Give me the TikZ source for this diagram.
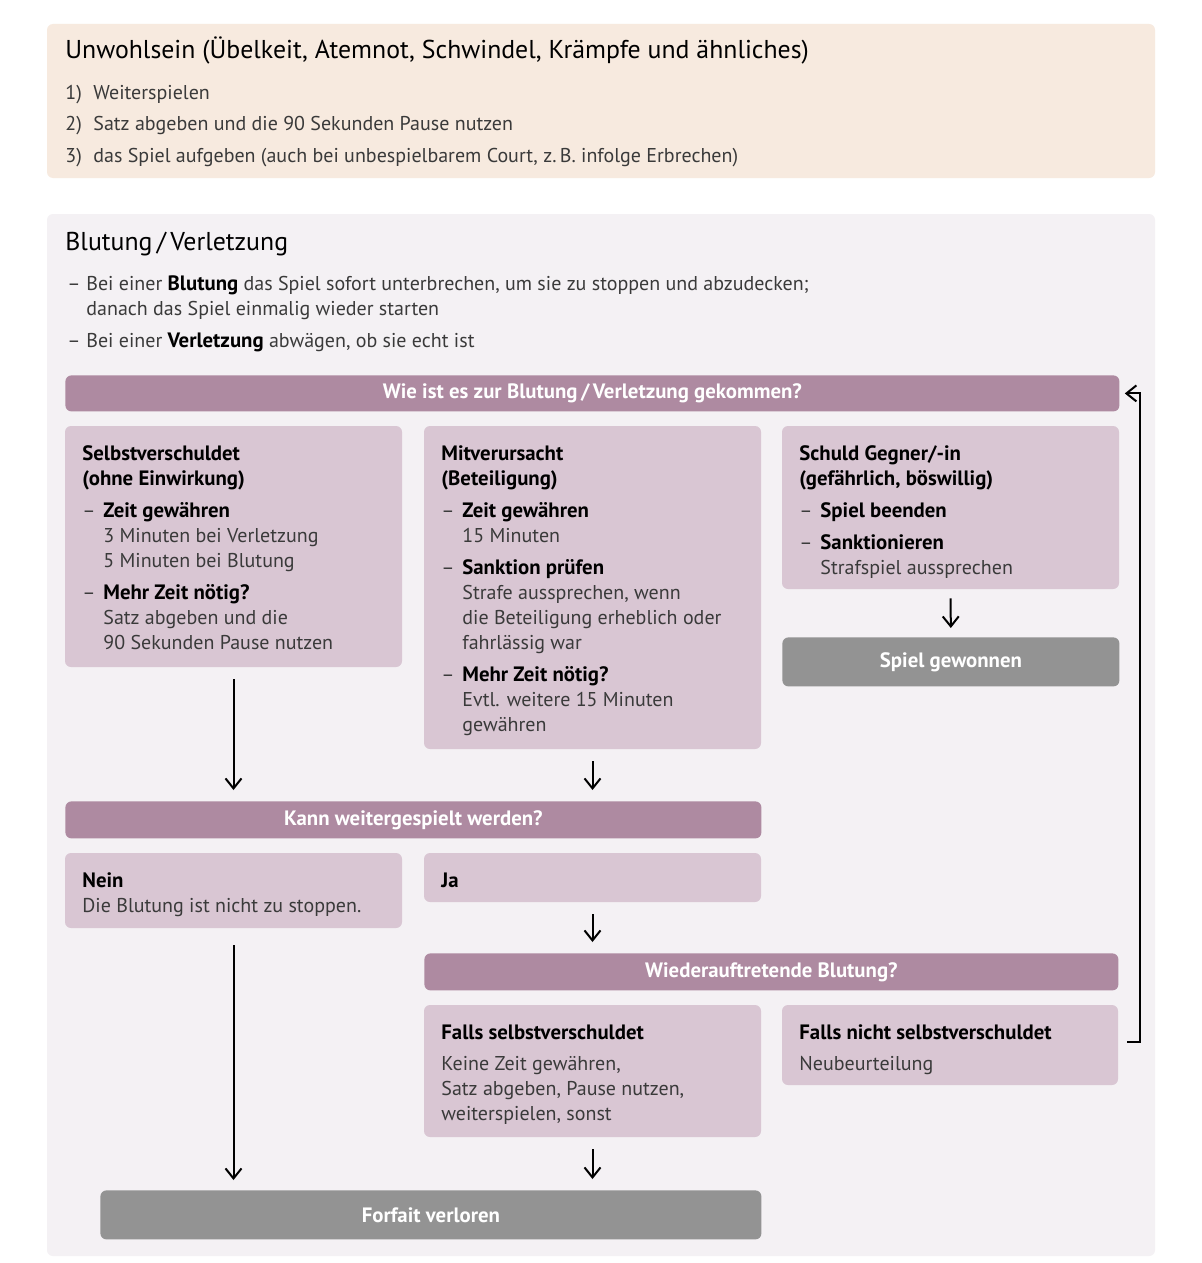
\documentclass[tikz,border=0pt]{standalone}
\usepackage{fontspec}
\setmainfont{PT Sans}
\usetikzlibrary{arrows.meta, positioning, fit, calc}

\definecolor{pfirsich}{HTML}{F7EADF}
\definecolor{hellgrau}{HTML}{F4F1F4}
\definecolor{mauve}{HTML}{AE8AA1}
\definecolor{flieder}{HTML}{D9C6D3}
\definecolor{grau}{HTML}{939393}
\definecolor{fliess}{HTML}{3A3A3A}

\newcommand{\oben}{\rule{0pt}{8pt}}
\newcommand{\strich}{\makebox[10.5pt][l]{–}}
\newcommand{\einr}{\hspace*{10.5pt}}
\newcommand{\fett}[1]{\textcolor{black}{\fontsize{10.4}{12.5}\selectfont\bfseries #1}}

\begin{document}
\begin{tikzpicture}[x=0.5pt, y=-0.5pt, font=\fontsize{10}{12.5}\selectfont,
    flaeche/.style={rounded corners=3pt, inner sep=0pt},
    kasten/.style={fill=flieder, rounded corners=3pt, inner sep=0pt},
    frage/.style={fill=mauve, rounded corners=3pt, inner sep=0pt, anchor=north west, text=white, font=\fontsize{10.4}{12.5}\selectfont\bfseries},
    ende/.style={fill=grau, rounded corners=3pt, inner sep=0pt, anchor=north west, text=white, font=\fontsize{10.4}{12.5}\selectfont\bfseries},
    txt/.style={anchor=north west, yshift=7pt, inner sep=0pt, align=left, text=fliess},
    titel/.style={anchor=base west, inner sep=0pt, text=black, font=\fontsize{12.9}{15}\selectfont},
    pfeil/.style={-{Straight Barb[length=5pt, width=8pt]}, line width=1pt, shorten <=6pt, shorten >=5.5pt}]
    \useasboundingbox[fill=white] (0,0) rectangle (1202,1263);

    % Unwohlsein
    \node[flaeche, fill=pfirsich, fit={(47,24) (1155,178)}] (unwohl) {};
    \node[titel] (unwohl-titel) at (65,59) {Unwohlsein (Übelkeit, Atemnot, Schwindel, Krämpfe und ähnliches)};
    \node[txt, font=\fontsize{10}{15.75}\selectfont] (unwohl-liste) at (65,97)
      {\oben\makebox[14pt][l]{1)}Weiterspielen\\
       \makebox[14pt][l]{2)}Satz abgeben und die 90 Sekunden Pause nutzen\\
       \makebox[14pt][l]{3)}das Spiel aufgeben (auch bei unbespielbarem Court, z.\,B. infolge Erbrechen)};

    % Blutung / Verletzung
    \node[flaeche, fill=hellgrau, fit={(47,214) (1155,1256)}] (blutung) {};
    \node[titel] (blutung-titel) at (65,250) {Blutung\,/\,Verletzung};
    \node[txt] (blutung-liste) at (67,288)
      {\oben\makebox[9.5pt][l]{–}Bei einer \fett{Blutung} das Spiel sofort unterbrechen, um sie zu stoppen und abzudecken;\\
       \hspace*{9.5pt}danach das Spiel einmalig wieder starten\\[3.5pt]
       \makebox[9.5pt][l]{–}Bei einer \fett{Verletzung} abwägen, ob sie echt ist};

    \node[frage, minimum width=527pt, minimum height=18pt] (wie) at (65,375) {Wie ist es zur Blutung\,/\,Verletzung gekommen?};

    \node[kasten, fit={(65,426) (402,667)}] (selbst) {};
    \node[txt] at (82,458)
      {\oben\fett{Selbstverschuldet}\\
       \fett{(ohne Einwirkung)}\\[3.5pt]
       \strich\fett{Zeit gewähren}\\
       \einr 3 Minuten bei Verletzung\\
       \einr 5 Minuten bei Blutung\\[3.5pt]
       \strich\fett{Mehr Zeit nötig?}\\
       \einr Satz abgeben und die\\
       \einr 90 Sekunden Pause nutzen};

    \node[kasten, fit={(424,426) (761,749)}] (mit) {};
    \node[txt] at (441,458)
      {\oben\fett{Mitverursacht}\\
       \fett{(Beteiligung)}\\[3.5pt]
       \strich\fett{Zeit gewähren}\\
       \einr 15 Minuten\\[3.5pt]
       \strich\fett{Sanktion prüfen}\\
       \einr Strafe aussprechen, wenn\\
       \einr die Beteiligung erheblich oder\\
       \einr fahrlässig war\\[3.5pt]
       \strich\fett{Mehr Zeit nötig?}\\
       \einr Evtl. weitere 15 Minuten\\
       \einr gewähren};

    \node[kasten, fit={(782,426) (1119,589)}] (gegner) {};
    \node[txt] at (799,458)
      {\oben\fett{Schuld Gegner/-in}\\
       \fett{(gefährlich, böswillig)}\\[3.5pt]
       \strich\fett{Spiel beenden}\\[3.5pt]
       \strich\fett{Sanktionieren}\\
       \einr Strafspiel aussprechen};

    \node[ende, minimum width=168.5pt, minimum height=24.5pt] (gewonnen) at (782,637) {Spiel gewonnen};

    \node[frage, minimum width=348pt, minimum height=18.5pt] (kann) at (65,801) {Kann weitergespielt werden?};

    \node[kasten, fit={(65,853) (402,928)}] (nein) {};
    \node[txt] at (82,885)
      {\oben\fett{Nein}\\
       Die Blutung ist nicht zu stoppen.};

    \node[kasten, fit={(424,853) (761,902)}] (ja) {};
    \node[txt] at (441,885) {\oben\fett{Ja}};

    \node[frage, minimum width=347pt, minimum height=18.5pt] (wieder) at (424,953) {Wiederauftretende Blutung?};

    \node[kasten, fit={(424,1005) (761,1137)}] (falls-selbst) {};
    \node[txt] at (441,1037)
      {\oben\fett{Falls selbstverschuldet}\\[3pt]
       Keine Zeit gewähren,\\
       Satz abgeben, Pause nutzen,\\
       weiterspielen, sonst};

    \node[kasten, fit={(782,1005) (1118,1085)}] (falls-nicht) {};
    \node[txt] at (799,1037)
      {\oben\fett{Falls nicht selbstverschuldet}\\[3pt]
       Neubeurteilung};

    \node[ende, minimum width=330.5pt, minimum height=24.5pt] (forfait) at (100,1190) {Forfait verloren};

    % Pfeile
    \draw[pfeil] (selbst.south) -- (selbst.south |- kann.north);
    \draw[pfeil] (mit.south) -- (mit.south |- kann.north);
    \draw[pfeil, shorten <=4.5pt, shorten >=4.5pt] (gegner.south) -- (gewonnen.north);
    \draw[pfeil] (ja.south) -- (ja.south |- wieder.north);
    \draw[pfeil, shorten <=8.5pt, shorten >=5pt] (nein.south) -- (nein.south |- forfait.north);
    \draw[pfeil] (falls-selbst.south) -- (falls-selbst.south |- forfait.north);
    \draw[pfeil, shorten <=4.5pt, shorten >=2.5pt] ([yshift=1.5pt]falls-nicht.east) -- ++(22,0) |- (wie.east);
\end{tikzpicture}
\end{document}
